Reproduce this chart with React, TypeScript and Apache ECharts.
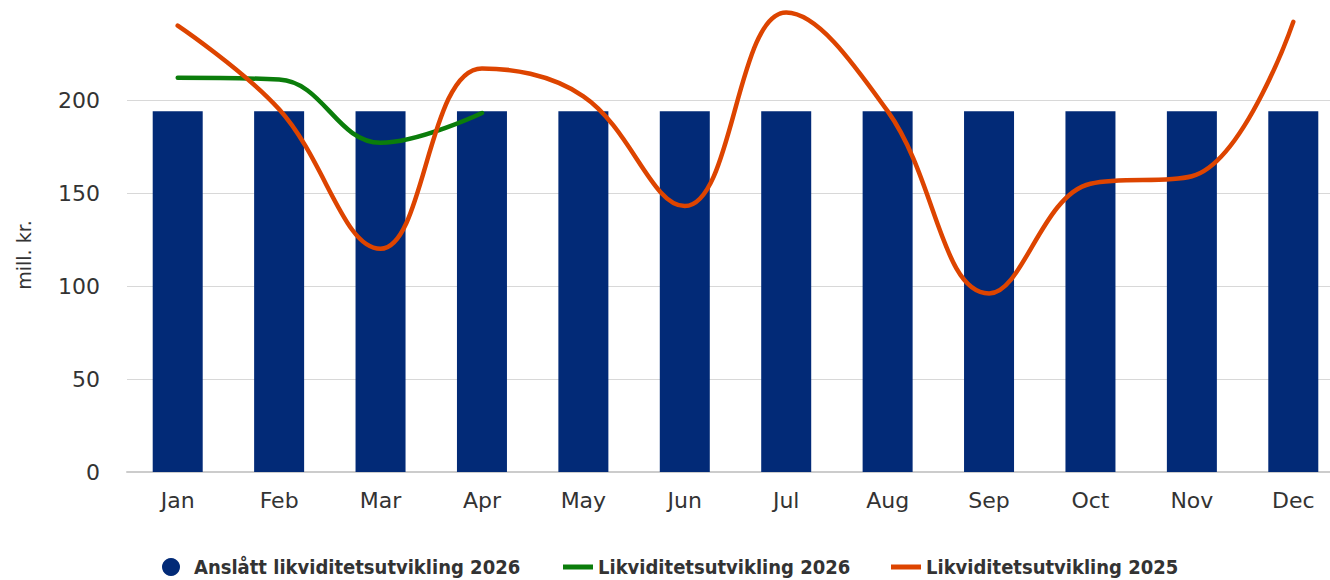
import React, { useEffect, useRef } from "react";
import * as echarts from "echarts";

const months = ["Jan", "Feb", "Mar", "Apr", "May", "Jun", "Jul", "Aug", "Sep", "Oct", "Nov", "Dec"];
const forecast2026 = [194, 194, 194, 194, 194, 194, 194, 194, 194, 194, 194, 194];
const actual2026 = [212, 211, 177, 193];
const actual2025 = [240, 195, 120, 217, 202, 143, 247, 194, 96, 155, 159, 242];

const nameForecast = "Anslått likviditetsutvikling 2026";
const name2026 = "Likviditetsutvikling 2026";
const name2025 = "Likviditetsutvikling 2025";
const yTitle = "mill. kr.";

const FONT = "'DejaVu Sans', sans-serif";
const LEGEND_FONT = "'DejaVu Sans Condensed', 'DejaVu Sans', sans-serif";

export default function App() {
  const ref = useRef<HTMLDivElement>(null);
  useEffect(() => {
    if (!ref.current) return;
    const chart = echarts.init(ref.current, null, { renderer: "svg" });
    const legendText = { fontFamily: LEGEND_FONT, fontWeight: "bold", fontSize: 20, color: "#333333" };
    chart.setOption({
      animation: false,
      backgroundColor: "#ffffff",
      grid: { left: 127, width: 1217, top: 7, height: 465 },
      xAxis: {
        type: "category",
        data: months,
        boundaryGap: true,
        axisLine: { lineStyle: { color: "#cccccc", width: 2 } },
        axisTick: { alignWithLabel: true, length: 12, lineStyle: { color: "#ccd6eb", width: 1 } },
        axisLabel: { color: "#333333", fontSize: 22, fontFamily: FONT, margin: 17 },
      },
      yAxis: {
        type: "value",
        min: 0,
        max: 250,
        interval: 50,
        axisLine: { show: false },
        axisTick: { show: false },
        axisLabel: { color: "#333333", fontSize: 22, fontFamily: FONT, margin: 27, showMaxLabel: false },
        splitLine: { showMaxLine: false, lineStyle: { color: "#d8d8d8", width: 1 } },
      },
      legend: [
        { data: [{ name: nameForecast, icon: "circle" }], left: 162, top: 557, padding: 0, itemWidth: 36, itemHeight: 18, textStyle: legendText },
        { data: [{ name: name2026, icon: "rect" }], left: 563, top: 557, padding: 0, itemWidth: 30, itemHeight: 5, textStyle: legendText },
        { data: [{ name: name2025, icon: "rect" }], left: 891, top: 557, padding: 0, itemWidth: 30, itemHeight: 5, textStyle: legendText },
      ],
      graphic: [
        {
          type: "text",
          x: 24,
          y: 255,
          rotation: Math.PI / 2,
          style: { text: yTitle, fontFamily: FONT, fontSize: 19, fill: "#333333", align: "center", verticalAlign: "middle" },
        },
      ],
      series: [
        {
          name: nameForecast,
          type: "bar",
          data: forecast2026,
          barWidth: 50,
          itemStyle: { color: "#022a77" },
        },
        {
          name: name2026,
          type: "line",
          data: actual2026,
          smooth: 0.4,
          symbol: "none",
          itemStyle: { color: "#0b7d0b" },
          lineStyle: { color: "#0b7d0b", width: 4.5, cap: "round" },
        },
        {
          name: name2025,
          type: "line",
          data: actual2025,
          smooth: 0.4,
          symbol: "none",
          itemStyle: { color: "#dd4400" },
          lineStyle: { color: "#dd4400", width: 4.5, cap: "round" },
        },
      ],
    });
    return () => chart.dispose();
  }, []);
  return (
    <div style={{ position: "absolute", left: 0, top: 0, width: 1330, height: 580, overflow: "hidden" }}>
      <div ref={ref} style={{ width: 1370, height: 580 }} />
    </div>
  );
}
